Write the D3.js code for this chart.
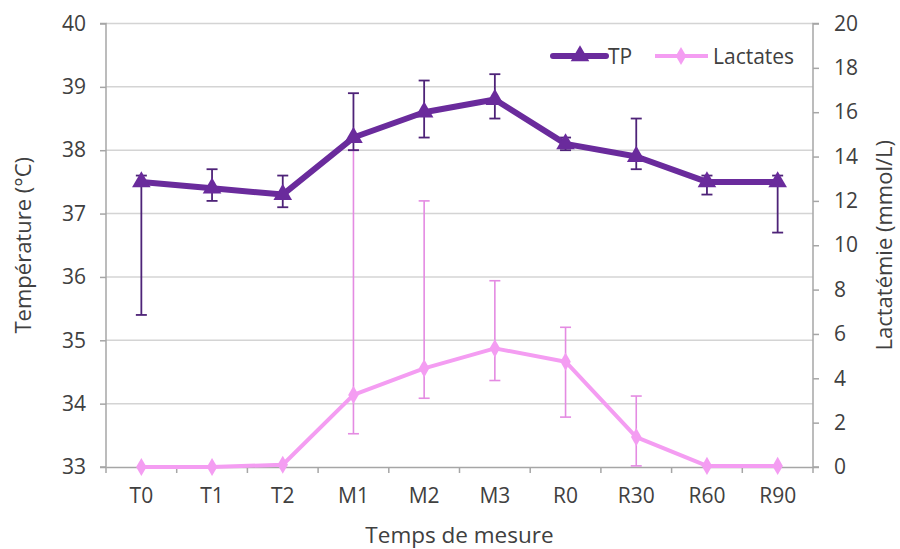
<!DOCTYPE html>
<html><head><meta charset="utf-8">
<script src="https://cdn.jsdelivr.net/npm/d3@7"></script>
<style>body{margin:0;background:#fff}svg{display:block}text{font-family:"Open Sans",sans-serif;fill:#404040}</style>
</head><body>
<svg id="c" width="900" height="549"></svg>
<script>
const categories = ["T0","T1","T2","M1","M2","M3","R0","R30","R60","R90"];
const tpValues  = [37.5, 37.4, 37.3, 38.2, 38.6, 38.8, 38.1, 37.9, 37.5, 37.5];
const tpUpper   = [37.6, 37.7, 37.6, 38.9, 39.1, 39.2, 38.2, 38.5, 37.6, 37.6];
const tpLower   = [35.4, 37.2, 37.1, 38.0, 38.2, 38.5, 38.0, 37.7, 37.3, 36.7];
const lacValues = [0.0, 0.0, 0.1, 3.25, 4.45, 5.35, 4.75, 1.35, 0.05, 0.05];
const lacUpper  = [0.0, 0.0, 0.1, 14.3, 12.0, 8.4, 6.3, 3.2, 0.05, 0.05];
const lacLower  = [0.0, 0.0, 0.1, 1.5, 3.1, 3.9, 2.25, 0.05, 0.05, 0.05];
const tempTicks = [33,34,35,36,37,38,39,40];
const lacTicks  = [0,2,4,6,8,10,12,14,16,18,20];
const seriesNames = ["TP","Lactates"];

const svg = d3.select("#c");
const L = 106, R = 813, T = 23.5, B = 467;
const x = d3.scaleBand().domain(categories).range([L, R]).padding(0);
const yT = d3.scaleLinear().domain([33, 40]).range([B, T]);
const yL = d3.scaleLinear().domain([0, 20]).range([B, T]);
const cx = c => x(c) + x.bandwidth() / 2;

const gridC = "#d4d4d4", axisC = "#a6a6a6";
const tpC = "#6a2b9c", tpErrC = "#4e2378";
const lacC = "#f49df2", lacErrC = "#e48be2";

// gridlines
svg.append("g").selectAll("line").data(tempTicks.slice(1)).join("line")
  .attr("x1", L).attr("x2", R).attr("y1", d => yT(d)).attr("y2", d => yT(d))
  .attr("stroke", gridC).attr("stroke-width", 1.5);

// axes
const gl = svg.append("g").attr("transform", `translate(${L},0)`)
  .call(d3.axisLeft(yT).tickValues(tempTicks).tickFormat(d3.format("d")).tickSize(6).tickPadding(14));
const gr = svg.append("g").attr("transform", `translate(${R},0)`)
  .call(d3.axisRight(yL).tickValues(lacTicks).tickFormat(d3.format("d")).tickSize(6).tickPadding(15));
const gb = svg.append("g").attr("transform", `translate(0,${B})`)
  .call(d3.axisBottom(x).tickSize(0).tickPadding(21));
[gl, gr, gb].forEach(g => {
  g.select(".domain").attr("stroke", axisC).attr("stroke-width", 1.5);
  g.selectAll(".tick line").attr("stroke", axisC).attr("stroke-width", 1.5);
  g.selectAll("text").attr("font-size", 21).attr("fill", "#404040").attr("font-family", "Open Sans");
});
gl.select(".domain").attr("d", `M-6,${T}H0V${B}H-6`);
gr.select(".domain").attr("d", `M6,${T}H0V${B}H6`);
// bottom ticks at band boundaries
const bounds = categories.map(c => x(c)).concat([R]);
gb.append("g").selectAll("line").data(bounds).join("line")
  .attr("x1", d => d).attr("x2", d => d).attr("y1", 0).attr("y2", 6)
  .attr("stroke", axisC).attr("stroke-width", 1.5);

// error bar helper
function errBars(vals, up, lo, y, color, w) {
  const g = svg.append("g").attr("stroke", color).attr("stroke-width", w).attr("fill", "none");
  categories.forEach((c, i) => {
    if (up[i] === lo[i]) return;
    const xc = cx(c);
    g.append("line").attr("x1", xc).attr("x2", xc).attr("y1", y(up[i])).attr("y2", y(lo[i]));
    g.append("line").attr("x1", xc - 5.5).attr("x2", xc + 5.5).attr("y1", y(up[i])).attr("y2", y(up[i]));
    g.append("line").attr("x1", xc - 5.5).attr("x2", xc + 5.5).attr("y1", y(lo[i])).attr("y2", y(lo[i]));
  });
}

// Lactates
errBars(lacValues, lacUpper, lacLower, yL, lacErrC, 1.6);
svg.append("path").datum(lacValues)
  .attr("d", d3.line().x((d, i) => cx(categories[i])).y(d => yL(d)))
  .attr("fill", "none").attr("stroke", lacC).attr("stroke-width", 4).attr("stroke-linejoin", "round");
const diamond = d3.symbol().type(d3.symbolDiamond).size(95);
svg.append("g").selectAll("path").data(lacValues).join("path")
  .attr("d", diamond).attr("transform", (d, i) => `translate(${cx(categories[i])},${yL(d)})`)
  .attr("fill", lacC);

// TP
errBars(tpValues, tpUpper, tpLower, yT, tpErrC, 1.8);
svg.append("path").datum(tpValues)
  .attr("d", d3.line().x((d, i) => cx(categories[i])).y(d => yT(d)))
  .attr("fill", "none").attr("stroke", tpC).attr("stroke-width", 6).attr("stroke-linejoin", "round");
const tri = d3.symbol().type(d3.symbolTriangle).size(150);
svg.append("g").selectAll("path").data(tpValues).join("path")
  .attr("d", tri).attr("transform", (d, i) => `translate(${cx(categories[i])},${yT(d)})`)
  .attr("fill", tpC);

// legend
const lg = svg.append("g");
lg.append("line").attr("x1", 553).attr("x2", 606).attr("y1", 56).attr("y2", 56)
  .attr("stroke", tpC).attr("stroke-width", 6).attr("stroke-linecap", "round");
lg.append("path").attr("d", tri).attr("transform", "translate(580,56)").attr("fill", tpC);
lg.append("text").attr("x", 608).attr("y", 63.5).attr("font-size", 21).text(seriesNames[0]);
lg.append("line").attr("x1", 655).attr("x2", 708).attr("y1", 56).attr("y2", 56)
  .attr("stroke", lacC).attr("stroke-width", 4);
lg.append("path").attr("d", diamond).attr("transform", "translate(681,56)").attr("fill", lacC);
lg.append("text").attr("x", 713).attr("y", 63.5).attr("font-size", 21).text(seriesNames[1]);

// titles
svg.append("text").attr("transform", `translate(31,${(T + B) / 2}) rotate(-90)`)
  .attr("text-anchor", "middle").attr("font-size", 22).text("Température (°C)");
svg.append("text").attr("transform", `translate(892,${(T + B) / 2}) rotate(-90)`)
  .attr("text-anchor", "middle").attr("font-size", 22).text("Lactatémie (mmol/L)");
svg.append("text").attr("x", (L + R) / 2).attr("y", 543)
  .attr("text-anchor", "middle").attr("font-size", 22.5).text("Temps de mesure");
</script>
</body></html>
